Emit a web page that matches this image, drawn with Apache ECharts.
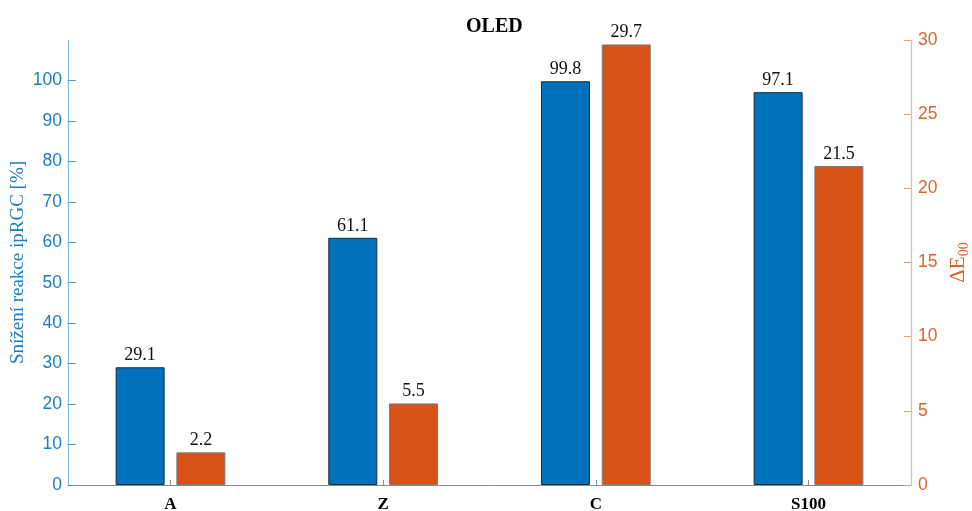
<!DOCTYPE html>
<html>
<head>
<meta charset="utf-8">
<script src="https://cdn.jsdelivr.net/npm/echarts@6/dist/echarts.min.js"></script>
<style>
  html, body { margin: 0; padding: 0; background: #fff; }
  #chart { width: 972px; height: 511px; }
</style>
</head>
<body>
<div id="chart"></div>
<script>
// Categories and the two measured series
const categories = ['A', 'Z', 'C', 'S100'];
const reductionValues = [29.1, 61.1, 99.8, 97.1];   // Snížení reakce ipRGC [%]
const deltaEValues = [2.2, 5.5, 29.7, 21.5];        // ΔE00
const leftTicks = [0, 10, 20, 30, 40, 50, 60, 70, 80, 90, 100];
const rightTicks = [0, 5, 10, 15, 20, 25, 30];
const categoryPositions = [1, 2, 3, 4];

const BLUE = '#0072BD';
const ORANGE = '#D95319';
const SERIF = '"Liberation Serif", "Times New Roman", serif';
const SANS = '"Liberation Sans", Arial, sans-serif';

const chart = echarts.init(document.getElementById('chart'), null, { renderer: 'canvas' });

const valueLabel = {
  show: true,
  position: 'top',
  distance: 3,
  fontFamily: SERIF,
  fontSize: 18,
  color: '#111'
};

// bars are placed on a numeric x axis (group n at x = n), like a MATLAB grouped bar plot
const toPoints = (values) => values.map((v, i) => [categoryPositions[i], v]);

chart.setOption({
  animation: false,
  backgroundColor: '#fff',
  title: {
    text: 'OLED',
    left: 461,
    top: 12,
    textStyle: { fontFamily: SERIF, fontWeight: 'bold', fontSize: 20, color: '#000' }
  },
  grid: { left: 68, right: 61, top: 40, bottom: 26, containLabel: false, outerBoundsMode: 'none' },
  xAxis: {
    type: 'value',
    min: 0.518,
    max: 4.482,
    axisLine: { show: true, lineStyle: { color: '#8a8a8a', width: 1 } },
    axisTick: { show: true, inside: true, length: 5, customValues: categoryPositions, lineStyle: { color: '#8a8a8a' } },
    axisLabel: {
      customValues: categoryPositions,
      formatter: (v) => categories[Math.round(v) - 1] || '',
      fontFamily: SERIF, fontWeight: 'bold', fontSize: 17, color: '#000', margin: 11
    },
    splitLine: { show: false }
  },
  yAxis: [
    {
      type: 'value',
      position: 'left',
      min: 0,
      max: 110,
      interval: 10,
      name: 'Snížení reakce ipRGC [%]',
      nameLocation: 'middle',
      nameRotate: 90,
      nameGap: 40,
      nameMoveOverlap: false,
      nameTextStyle: { fontFamily: SERIF, fontSize: 19, color: '#1a7cc6' },
      axisLine: { show: true, lineStyle: { color: '#7fb6df', width: 1.2 } },
      axisTick: { show: true, inside: true, length: 8, customValues: leftTicks, lineStyle: { color: '#4a98d4' } },
      axisLabel: { customValues: leftTicks, fontFamily: SANS, fontSize: 17.5, color: '#1a7cc6', margin: 6 },
      splitLine: { show: false }
    },
    {
      type: 'value',
      position: 'right',
      min: 0,
      max: 30,
      interval: 5,
      name: '{d|ΔE}{s|00}',
      nameLocation: 'middle',
      nameRotate: 90,
      nameGap: 27,
      nameTextStyle: {
        color: '#e0622a',
        rich: {
          d: { fontFamily: SERIF, fontSize: 21, color: '#e0622a', lineHeight: 24 },
          s: { fontFamily: SERIF, fontSize: 14, color: '#e0622a', padding: [10, 0, 0, 0] }
        }
      },
      axisLine: { show: true, lineStyle: { color: '#f2b39a', width: 1.2 } },
      axisTick: { show: true, inside: true, length: 7, customValues: rightTicks, lineStyle: { color: '#eb9a78' } },
      axisLabel: { customValues: rightTicks, fontFamily: SANS, fontSize: 17.5, color: '#e0622a', margin: 7 },
      splitLine: { show: false }
    }
  ],
  series: [
    {
      type: 'bar',
      yAxisIndex: 0,
      data: toPoints(reductionValues),
      barWidth: 49,
      barGap: '24%',
      itemStyle: { color: BLUE, borderColor: '#1b2b3a', borderWidth: 1 },
      label: Object.assign({}, valueLabel, { formatter: (p) => p.value[1] })
    },
    {
      type: 'bar',
      yAxisIndex: 1,
      data: toPoints(deltaEValues),
      barWidth: 49,
      barGap: '24%',
      itemStyle: { color: ORANGE, borderColor: '#7a7a7a', borderWidth: 1 },
      label: Object.assign({}, valueLabel, { formatter: (p) => p.value[1] })
    }
  ]
});
</script>
</body>
</html>
